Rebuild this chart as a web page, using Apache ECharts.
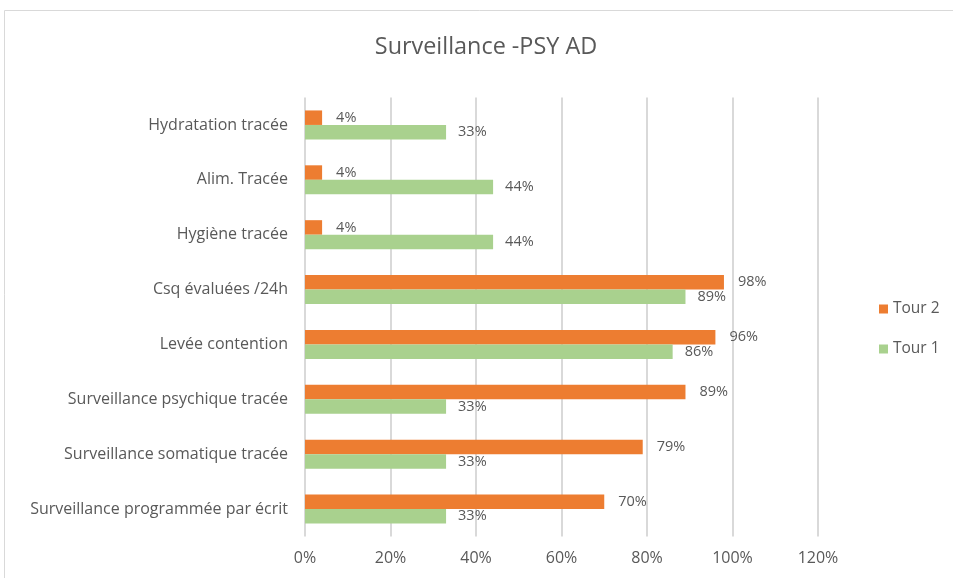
<!DOCTYPE html>
<html><head><meta charset="utf-8">
<script src="https://cdn.jsdelivr.net/npm/echarts@6/dist/echarts.min.js"></script>
<style>html,body{margin:0;padding:0;background:#fff}#c{width:953px;height:578px}</style>
</head><body><div id="c"></div>
<script>
const categories = ["Surveillance programmée par écrit","Surveillance somatique tracée","Surveillance psychique tracée","Levée contention","Csq évaluées /24h","Hygiène tracée","Alim. Tracée","Hydratation tracée"];
const tour2 = [70, 79, 89, 96, 98, 4, 4, 4];
const tour1 = [33, 33, 33, 86, 89, 44, 44, 33];
const seriesNames = ["Tour 2", "Tour 1"];
const FONT = "'Open Sans', 'Liberation Sans', sans-serif";
const TXT = '#595959';
const chart = echarts.init(document.getElementById('c'), null, {renderer:'canvas'});
chart.setOption({
  animation:false,
  textStyle:{fontFamily:FONT},
  title:{text:'Surveillance -PSY AD', left:481, textAlign:'center', top:31, textStyle:{fontFamily:FONT, fontWeight:'normal', fontSize:23.4, color:TXT}},
  graphic:[{type:'rect', shape:{x:4.5, y:10.5, width:960, height:600}, style:{fill:'none', stroke:'#d9d9d9', lineWidth:1}, silent:true}],
  legend:{orient:'vertical', left:874, top:296, itemWidth:9, itemHeight:9, itemGap:24, icon:'rect',
    data:seriesNames, textStyle:{fontFamily:FONT, fontSize:15.5, color:TXT}},
  grid:{left:305, right:135, top:97.5, bottom:41.5, containLabel:false},
  xAxis:{type:'value', min:0, max:120, interval:20,
    axisLabel:{formatter:'{value}%', fontSize:16, color:TXT, margin:14, fontFamily:FONT},
    axisLine:{show:false}, axisTick:{show:false},
    splitLine:{lineStyle:{color:'#d9d9d9', width:2}}},
  yAxis:{type:'category', data:categories,
    axisLabel:{fontSize:16, color:TXT, margin:17, fontFamily:FONT},
    axisLine:{show:false}, axisTick:{show:false}},
  series:[
    {name:'Tour 2', type:'bar', data:tour2, barWidth:14.5, barGap:'0%', barCategoryGap:'48%',
      itemStyle:{color:'#ed7d31'},
      label:{show:true, position:'right', distance:14, formatter:'{c}%', fontSize:14.5, color:TXT, fontFamily:FONT}},
    {name:'Tour 1', type:'bar', data:tour1, barWidth:14.5, barGap:'0%', barCategoryGap:'48%',
      itemStyle:{color:'#a9d18e'},
      label:{show:true, position:'right', distance:12, formatter:'{c}%', fontSize:14.5, color:TXT, fontFamily:FONT}}
  ]
});
</script></body></html>
